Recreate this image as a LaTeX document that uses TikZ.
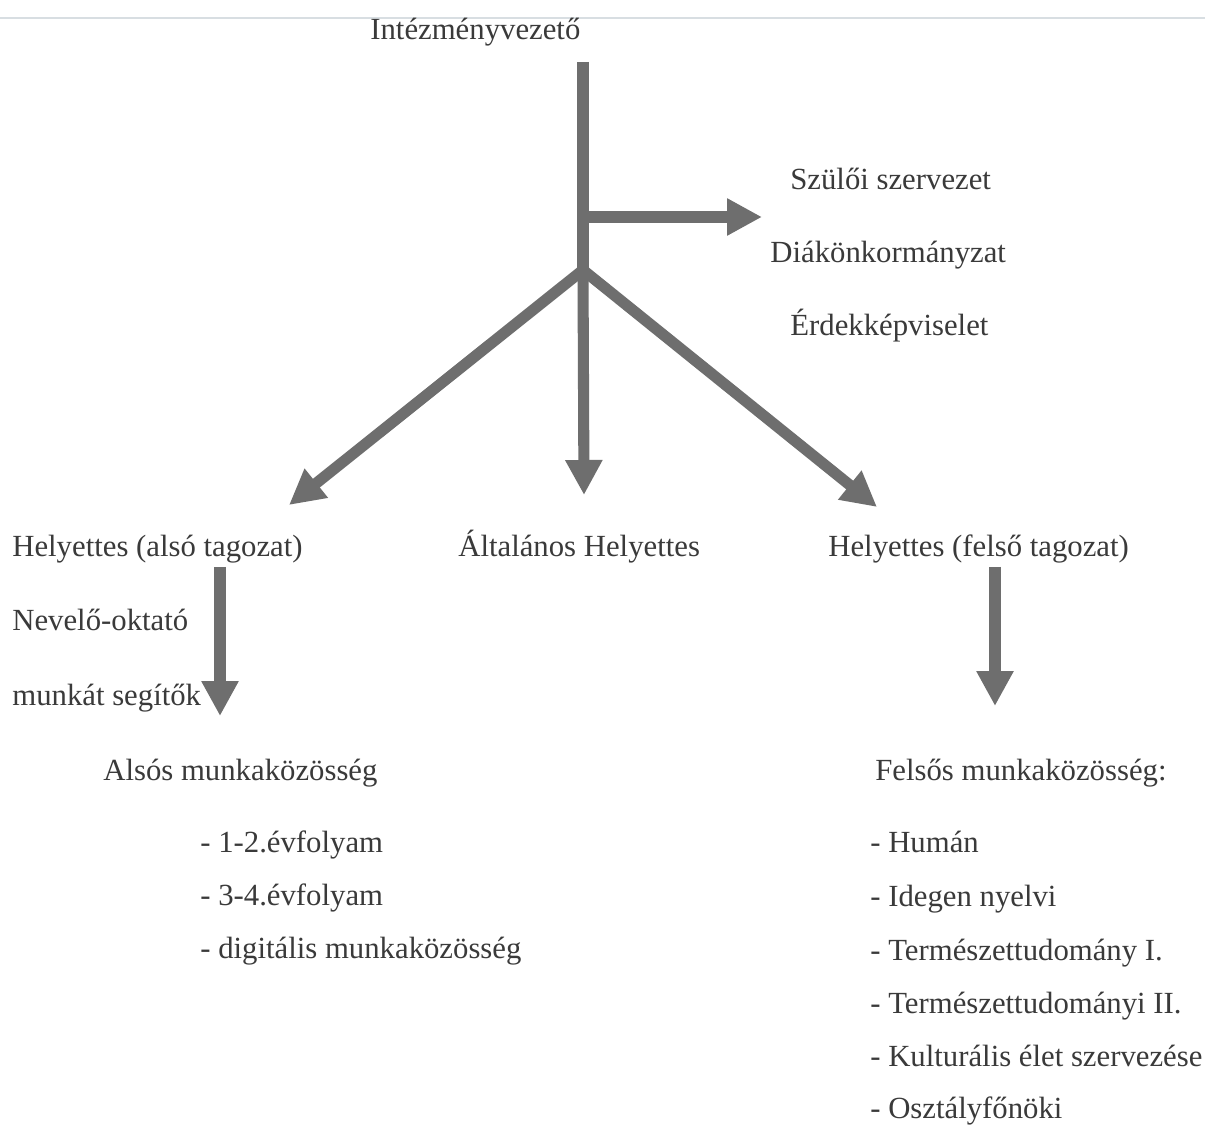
\documentclass[tikz,border=0pt]{standalone}
\usepackage{fontspec}
\setmainfont{Liberation Serif}
\usetikzlibrary{arrows.meta}
\definecolor{inkgray}{HTML}{3A3A3A}
\definecolor{arrowgray}{HTML}{6E6E6E}
\definecolor{edgeline}{HTML}{D8DEE2}

\begin{document}
\begin{tikzpicture}[x=0.02cm, y=-0.02cm,
	lbl/.style={anchor=base west, inner sep=0pt, text=inkgray, font=\fontsize{17.5}{21}\selectfont},
	bigarrow/.style={draw=arrowgray, line width=6.3pt, -{Triangle[width=0.7cm, length=0.7cm]}}]
	\fill[white] (0,0) rectangle (1205,1125);
	\useasboundingbox (0,0) rectangle (1205,1125);
	\draw[edgeline, line width=0.6pt] (0,18) -- (1205,18);
	
	% top
	\node[lbl] (vezeto) at (370,40) {Intézményvezető};
	\node[lbl] (szuloi) at (790,190) {Szülői szervezet};
	\node[lbl] (diak) at (770,263) {Diákönkormányzat};
	\node[lbl] (erdek) at (790,336) {Érdekképviselet};
	
	% helyettesek
	\node[lbl] (also) at (12,557) {Helyettes (alsó tagozat)};
	\node[lbl] (altalanos) at (458,557) {Általános Helyettes};
	\node[lbl] (felso) at (828,557) {Helyettes (felső tagozat)};
	\node[lbl] (nevelo) at (12,630) {Nevelő-oktató};
	\node[lbl] (segitok) at (12,705) {munkát segítők};
	
	% munkakozossegek
	\node[lbl] (alsomk) at (103,780) {Alsós munkaközösség};
	\node[lbl] (ev12) at (200,852) {- 1-2.évfolyam};
	\node[lbl] (ev34) at (200,905) {- 3-4.évfolyam};
	\node[lbl] (digit) at (200,958) {- digitális munkaközösség};
	
	\node[lbl] (felsomk) at (875,780) {Felsős munkaközösség:};
	\node[lbl] (human) at (870,852) {- Humán};
	\node[lbl] (idegen) at (870,906) {- Idegen nyelvi};
	\node[lbl] (termI) at (870,960) {- Természettudomány I.};
	\node[lbl] (termII) at (870,1013) {- Természettudományi II.};
	\node[lbl] (kult) at (870,1066) {- Kulturális élet szervezése};
	\node[lbl] (oszt) at (870,1118) {- Osztályfőnöki};
	
	% arrows
	\coordinate (trunktop) at (583,62);
	\coordinate (fork) at (583,270);
	\coordinate (side) at (583,217);
	\coordinate (sidetip) at (762,217);
	\coordinate (lefttip) at (289,505);
	\coordinate (midtip) at (584,495);
	\coordinate (righttip) at (877,507);
	\coordinate (alsotop) at (220,567);
	\coordinate (alsotip) at (220,716);
	\coordinate (felsotop) at (995,567);
	\coordinate (felsotip) at (995,706);
	
	\draw[draw=arrowgray, line width=6.3pt] (trunktop) -- (fork);
	\draw[bigarrow] (side) -- (sidetip);
	\draw[bigarrow] (fork) -- (lefttip);
	\draw[bigarrow] (fork) -- (midtip);
	\draw[bigarrow] (fork) -- (righttip);
	\draw[bigarrow] (alsotop) -- (alsotip);
	\draw[bigarrow] (felsotop) -- (felsotip);
\end{tikzpicture}
\end{document}
